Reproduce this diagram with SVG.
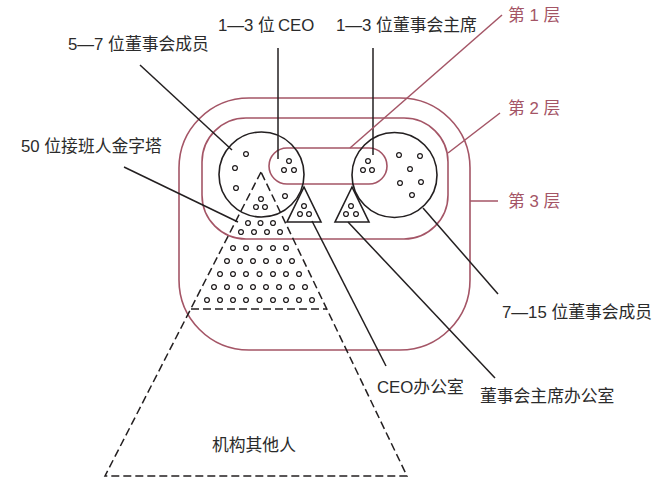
<svg xmlns="http://www.w3.org/2000/svg" width="662" height="484" viewBox="0 0 662 484">
<style>
.bg{fill:#ffffff}
.layer{fill:none;stroke:#a45566;stroke-width:1.6}
.ink{fill:none;stroke:#231f20;stroke-width:1.6}
.dash{fill:none;stroke:#231f20;stroke-width:1.5;stroke-dasharray:8 4}
.dot{fill:#ffffff;stroke:#231f20;stroke-width:1.3}
.lead{stroke:#231f20;stroke-width:1.5;fill:none}
.llead{stroke:#a45566;stroke-width:1.5;fill:none}
text{font-family:"Liberation Sans","Noto Sans CJK SC",sans-serif;font-size:16.8px;fill:#2b2b2b}
text.rose{fill:#a45566}
</style>
<defs>
<circle id="d" r="2.4" class="dot"/>
</defs>
<rect class="bg" width="662" height="484"/>

<g id="layer3">
<rect class="layer" x="179" y="98" width="291" height="252" rx="70" ry="70"/>
</g>
<g id="layer2">
<rect class="layer" x="202" y="118" width="246" height="121" rx="44" ry="44"/>
</g>
<g id="layer1">
<rect class="layer" x="269" y="148" width="118" height="36" rx="18" ry="18"/>
</g>

<g id="board-left">
<circle class="ink" cx="261.5" cy="174.5" r="42.5"/>
<use href="#d" x="246" y="154"/>
<use href="#d" x="235" y="168"/>
<use href="#d" x="236" y="188"/>
<use href="#d" x="285" y="196"/>
</g>
<g id="ceo">
<use href="#d" x="289" y="161"/>
<use href="#d" x="284" y="170"/>
<use href="#d" x="294" y="170"/>
</g>
<g id="board-right">
<circle class="ink" cx="394.5" cy="175" r="42.5"/>
<use href="#d" x="399" y="155"/>
<use href="#d" x="420" y="156"/>
<use href="#d" x="410" y="169"/>
<use href="#d" x="400" y="183"/>
<use href="#d" x="421" y="182"/>
<use href="#d" x="412" y="195"/>
</g>
<g id="chairman">
<use href="#d" x="368" y="161"/>
<use href="#d" x="363" y="170"/>
<use href="#d" x="372" y="170"/>
</g>
<g id="ceo-office">
<polygon class="ink" points="304,187 287,222 321,222"/>
<use href="#d" x="304" y="206"/>
<use href="#d" x="300" y="214"/>
<use href="#d" x="309" y="214"/>
</g>
<g id="chairman-office">
<polygon class="ink" points="352,187 335,222 369,222"/>
<use href="#d" x="351" y="206"/>
<use href="#d" x="346" y="214"/>
<use href="#d" x="356" y="214"/>
</g>

<g id="pyramid">
<polygon class="dash" points="261,172 105,476 407,476"/>
<line class="dash" x1="191" y1="309" x2="327" y2="309"/>
<use href="#d" x="261" y="199"/>
<use href="#d" x="256" y="207"/><use href="#d" x="265" y="207"/>
<use href="#d" x="248" y="223"/><use href="#d" x="260.5" y="223"/><use href="#d" x="273" y="223"/>
<use href="#d" x="241" y="232"/><use href="#d" x="254" y="232"/><use href="#d" x="267" y="232"/><use href="#d" x="280" y="232"/>
<use href="#d" x="233" y="248"/><use href="#d" x="246" y="248"/><use href="#d" x="259.5" y="248"/><use href="#d" x="273" y="248"/><use href="#d" x="286" y="248"/>
<use href="#d" x="227" y="261"/><use href="#d" x="240" y="261"/><use href="#d" x="253" y="261"/><use href="#d" x="266" y="261"/><use href="#d" x="279" y="261"/><use href="#d" x="292" y="261"/>
<use href="#d" x="220" y="274"/><use href="#d" x="233" y="274"/><use href="#d" x="246" y="274"/><use href="#d" x="259.5" y="274"/><use href="#d" x="273" y="274"/><use href="#d" x="286" y="274"/><use href="#d" x="299" y="274"/>
<use href="#d" x="214" y="287"/><use href="#d" x="227" y="287"/><use href="#d" x="240" y="287"/><use href="#d" x="253" y="287"/><use href="#d" x="266" y="287"/><use href="#d" x="279" y="287"/><use href="#d" x="292" y="287"/><use href="#d" x="305" y="287"/>
<use href="#d" x="207" y="300"/><use href="#d" x="220" y="300"/><use href="#d" x="233" y="300"/><use href="#d" x="246" y="300"/><use href="#d" x="259.5" y="300"/><use href="#d" x="273" y="300"/><use href="#d" x="286" y="300"/><use href="#d" x="299" y="300"/><use href="#d" x="312" y="300"/>
</g>

<g id="connectors">
<line class="lead" x1="140" y1="65" x2="232" y2="150"/>
<line class="lead" x1="278" y1="48" x2="278" y2="159"/>
<line class="lead" x1="373" y1="48" x2="373" y2="155"/>
<line class="lead" x1="124" y1="167" x2="238" y2="222"/>
<line class="lead" x1="423" y1="208" x2="498" y2="294"/>
<line class="lead" x1="312" y1="221" x2="386" y2="366"/>
<line class="lead" x1="348" y1="222" x2="495" y2="378"/>
<line class="llead" x1="502" y1="15" x2="350" y2="148"/>
<line class="llead" x1="500" y1="113" x2="448" y2="153"/>
<line class="llead" x1="470" y1="201" x2="498" y2="201"/>
</g>

<g id="labels">
<text x="68" y="50">5—7 位董事会成员</text>
<text x="218" y="31">1—3 位<tspan dx="3">CEO</tspan></text>
<text x="336" y="31">1—3 位董事会主席</text>
<text class="rose" x="508" y="21">第 1 层</text>
<text class="rose" x="508" y="114">第 2 层</text>
<text class="rose" x="508" y="207">第 3 层</text>
<text x="21" y="152">50 位接班人金字塔</text>
<text x="502" y="318">7—15 位董事会成员</text>
<text x="377" y="393">CEO办公室</text>
<text x="480" y="402">董事会主席办公室</text>
<text x="212" y="451">机构其他人</text>
</g>
</svg>
